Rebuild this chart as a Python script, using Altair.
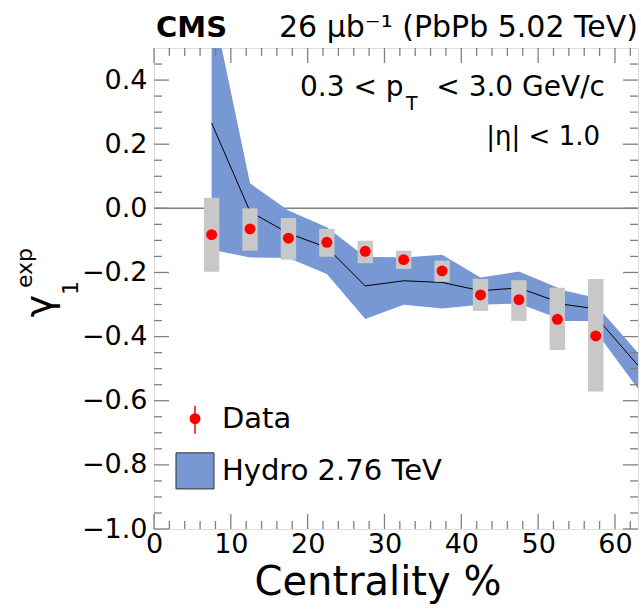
import altair as alt
import pandas as pd

FONT = "DejaVu Sans"

# ---- data ----
centrality = [7.5, 12.5, 17.5, 22.5, 27.5, 32.5, 37.5, 42.5, 47.5, 52.5, 57.5]
gamma1 = [-0.082, -0.064, -0.093, -0.106, -0.134, -0.160, -0.195, -0.270, -0.285, -0.346, -0.398]
sys_low = [-0.198, -0.132, -0.160, -0.151, -0.171, -0.189, -0.229, -0.320, -0.351, -0.442, -0.571]
sys_high = [0.033, 0.0, -0.030, -0.064, -0.101, -0.132, -0.163, -0.220, -0.224, -0.248, -0.220]

hydro_x = [7.5, 12.5, 17.5, 22.5, 27.5, 32.5, 37.5, 42.5, 47.5, 53.5, 56.5, 63.0]
hydro_mid = [0.266, -0.010, -0.078, -0.122, -0.242, -0.226, -0.231, -0.257, -0.248, -0.300, -0.310, -0.490]
hydro_high = [0.650, 0.078, -0.007, -0.059, -0.151, -0.153, -0.145, -0.216, -0.197, -0.257, -0.273, -0.450]
hydro_low = [-0.129, -0.153, -0.155, -0.205, -0.345, -0.301, -0.312, -0.301, -0.297, -0.351, -0.351, -0.563]

x_major = [0, 10, 20, 30, 40, 50, 60]
x_minor = [v for v in range(2, 63, 2) if v % 10 != 0]
y_major = [-1.0, -0.8, -0.6, -0.4, -0.2, 0.0, 0.2, 0.4]
y_minor = [round(-0.95 + 0.05 * i, 2) for i in range(29) if round((-0.95 + 0.05 * i) * 100) % 20 != 0]

legend_labels = ["Data", "Hydro 2.76 TeV"]

W, H = 484, 481
XMIN, XMAX = 0, 63
YMIN, YMAX = -1.0, 0.5

BLUE = "#7898d4"
GREY = "#c8c8c8"
FRAME = "#808080"

xs = alt.Scale(domain=[XMIN, XMAX], nice=False, zero=False)
ys = alt.Scale(domain=[YMIN, YMAX], nice=False, zero=False)
XA = alt.Axis(values=x_major, format="d", ticks=False, domain=False, grid=False, title=None,
              labelFont=FONT, labelFontSize=27, labelColor="black", labelPadding=2, labelFlush=False)
YA = alt.Axis(values=y_major, format=".1f", ticks=False, domain=False, grid=False, title=None,
              labelFont=FONT, labelFontSize=27, labelColor="black", labelPadding=7, labelFlush=False)


def X(f):
    return alt.X(f, scale=xs, axis=XA)


def Y(f):
    return alt.Y(f, scale=ys, axis=YA)


data_df = pd.DataFrame({"c": centrality, "g": gamma1,
                        "lo": sys_low, "hi": sys_high,
                        "c0": [c - 1.0 for c in centrality],
                        "c1": [c + 1.0 for c in centrality]})
hydro_df = pd.DataFrame({"x": hydro_x, "m": hydro_mid, "hi": hydro_high, "lo": hydro_low})

band = alt.Chart(hydro_df).mark_area(color=BLUE, clip=True, opacity=1).encode(
    x=X("x:Q"), y=Y("lo:Q"), y2="hi:Q")

zero_line = alt.Chart(pd.DataFrame({"y": [0.0]})).mark_rule(color=FRAME, strokeWidth=1.5).encode(
    y=Y("y:Q"), x=alt.value(0), x2=alt.value(W))

hline = alt.Chart(hydro_df).mark_line(color="black", strokeWidth=1, clip=True).encode(
    x=X("x:Q"), y=Y("m:Q"))

boxes = alt.Chart(data_df).mark_rect(color=GREY).encode(
    x=X("c0:Q"), x2="c1:Q", y=Y("lo:Q"), y2="hi:Q")

points = alt.Chart(data_df).mark_circle(color="#ff0000", size=120, opacity=1).encode(
    x=X("c:Q"), y=Y("g:Q"))


def tick_layer(vals, L, axis, side):
    df = pd.DataFrame({"v": vals})
    base = alt.Chart(df).mark_rule(color=FRAME, strokeWidth=1.3)
    if axis == "x":
        enc = dict(x=X("v:Q"))
        if side == "bottom":
            enc.update(y=alt.value(H), y2=alt.value(H - L))
        else:
            enc.update(y=alt.value(0), y2=alt.value(L))
    else:
        enc = dict(y=Y("v:Q"))
        if side == "left":
            enc.update(x=alt.value(0), x2=alt.value(L))
        else:
            enc.update(x=alt.value(W), x2=alt.value(W - L))
    return base.encode(**enc)


ticks = [
    tick_layer(x_major, 15, "x", "bottom"), tick_layer(x_minor, 8, "x", "bottom"),
    tick_layer(x_major, 15, "x", "top"), tick_layer(x_minor, 8, "x", "top"),
    tick_layer(y_major, 15, "y", "left"), tick_layer(y_minor, 8, "y", "left"),
    tick_layer(y_major, 15, "y", "right"), tick_layer(y_minor, 8, "y", "right"),
]

# ---- legend (placed in data coordinates) ----
leg_rect = alt.Chart(pd.DataFrame({"x0": [2.86], "x1": [7.81], "y0": [-0.7625], "y1": [-0.875]})).mark_rect(
    color=BLUE, stroke="#333333", strokeWidth=1).encode(
    x=X("x0:Q"), x2="x1:Q", y=Y("y0:Q"), y2="y1:Q")
leg_bar = alt.Chart(pd.DataFrame({"x": [5.34], "y0": [-0.616], "y1": [-0.703]})).mark_rule(
    color="#ff0000", strokeWidth=1.5).encode(x=X("x:Q"), y=Y("y0:Q"), y2="y1:Q")
leg_dot = alt.Chart(pd.DataFrame({"x": [5.34], "y": [-0.656]})).mark_circle(
    color="#ff0000", size=120, opacity=1).encode(x=X("x:Q"), y=Y("y:Q"))
leg_text = alt.Chart(pd.DataFrame({"x": [8.85, 8.85], "y": [-0.656, -0.819],
                                   "t": legend_labels})).mark_text(
    align="left", baseline="middle", font=FONT, fontSize=29, color="black").encode(
    x=X("x:Q"), y=Y("y:Q"), text="t:N")


def txt(s, x, y, size, align="left", weight="normal", angle=0, baseline="alphabetic"):
    return alt.Chart(pd.DataFrame({"t": [s]})).mark_text(
        align=align, baseline=baseline, font=FONT, fontSize=size, fontWeight=weight,
        angle=angle, color="black").encode(x=alt.value(x), y=alt.value(y), text="t:N")


texts = [
    txt("CMS", 2, -11, 29, weight="bold"),
    txt("26 μb⁻¹ (PbPb 5.02 TeV)", 484, -11, 30, align="right"),
    txt("0.3 < p", 146, 48, 28),
    txt("T", 252, 62, 19),
    txt("< 3.0 GeV/c", 451, 48, 28, align="right"),
    txt("|η| < 1.0", 446, 97, 26, align="right"),
    txt("Centrality %", 224, 547, 40, align="center"),
    txt("γ", -102, 258, 38, align="center", angle=270),
    txt("1", -76, 240, 22, align="center", angle=270),
    txt("exp", -122, 220, 22, align="center", angle=270),
]

chart = alt.layer(zero_line, band, hline, boxes, points, *ticks,
                  leg_rect, leg_bar, leg_dot, leg_text, *texts).properties(
    width=W, height=H,
    autosize=alt.AutoSizeParams(type="none"),
    padding={"left": 154, "top": 48, "right": 3, "bottom": 85},
).configure_view(stroke=FRAME, strokeWidth=1.5).configure(background="white")

chart.save("out.html", embed_options={"renderer": "svg", "actions": False})
